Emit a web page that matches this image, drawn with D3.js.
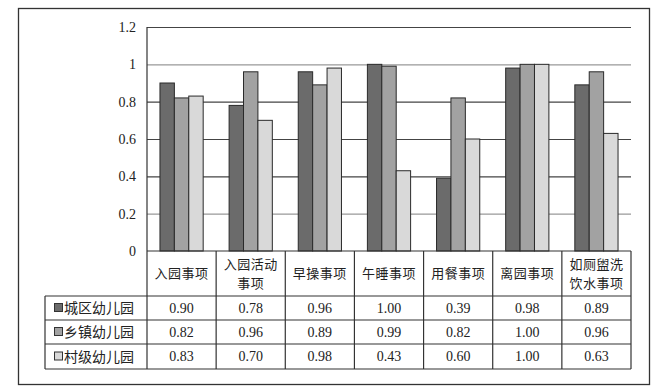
<!DOCTYPE html>
<html>
<head>
<meta charset="utf-8">
<script src="https://cdn.jsdelivr.net/npm/d3@7"></script>
<style>
  body { margin: 0; background: #fff; }
  text { fill: #222; }
</style>
</head>
<body>
<svg width="665" height="392"></svg>
<script>
// data
let categories = ['入园事项', '入园活动\n事项', '早操事项', '午睡事项', '用餐事项', '离园事项', '如厕盥洗\n饮水事项'];
let seriesNames = ['城区幼儿园', '乡镇幼儿园', '村级幼儿园'];
let cityVals = [0.90, 0.78, 0.96, 1.00, 0.39, 0.98, 0.89];
let townVals = [0.82, 0.96, 0.89, 0.99, 0.82, 1.00, 0.96];
let villageVals = [0.83, 0.70, 0.98, 0.43, 0.60, 1.00, 0.63];
let yTicks = [0, 0.2, 0.4, 0.6, 0.8, 1, 1.2];

let colors = ['#6b6b6b', '#a2a2a2', '#d9d9d9'];
let series = [cityVals, townVals, villageVals];

let serif = '"Liberation Serif", "DejaVu Serif", serif';
let cjk = '"Noto Sans CJK SC", sans-serif';

let svg = d3.select('svg');

// outer frame
svg.append('rect')
  .attr('x', 18.5).attr('y', 8.5)
  .attr('width', 631).attr('height', 376)
  .style('fill', 'none')
  .style('stroke', '#333')
  .style('stroke-width', 1.3);

let plotL = 147, plotR = 631, plotT = 27, plotB = 251;

let x = d3.scaleBand()
  .domain(d3.range(categories.length))
  .range([plotL, plotR]);

let y = d3.scaleLinear()
  .domain([0, 1.2])
  .range([plotB, plotT]);

let x1 = d3.scaleBand()
  .domain(d3.range(3))
  .range([0, x.bandwidth()])
  .paddingOuter(0.9)
  .paddingInner(0);

// gridlines
svg.append('g')
  .selectAll('line')
  .data(yTicks.filter(d => d > 0))
  .enter()
  .append('line')
  .attr('x1', plotL).attr('x2', plotR)
  .attr('y1', d => y(d) + 0.5).attr('y2', d => y(d) + 0.5)
  .style('stroke', d => (d == 1 || d == 0.2) ? '#999' : '#444')
  .style('stroke-width', 1.2);

// y labels
svg.append('g')
  .selectAll('text')
  .data(yTicks)
  .enter()
  .append('text')
  .attr('x', 136)
  .attr('y', d => y(d))
  .attr('dy', '0.35em')
  .attr('text-anchor', 'end')
  .style('font-family', serif)
  .style('font-size', '14px')
  .text(d => d);

// bars
let groups = svg.append('g')
  .selectAll('g')
  .data(categories)
  .enter()
  .append('g')
  .attr('transform', (d, i) => `translate(${x(i)},0)`);

groups.selectAll('rect')
  .data((d, i) => series.map((s, j) => ({ s: j, v: s[i] })))
  .enter()
  .append('rect')
  .attr('x', d => x1(d.s))
  .attr('y', d => y(d.v))
  .attr('width', x1.bandwidth())
  .attr('height', d => plotB - y(d.v))
  .style('fill', d => colors[d.s])
  .style('stroke', '#2a2a2a')
  .style('stroke-width', 1);

// table
let rowTops = [251, 296, 320, 344, 369];
let tableLeft = 45;
let tbl = svg.append('g')
  .style('stroke', '#333')
  .style('stroke-width', 1.2);

// left vertical line of plot + table
tbl.append('line')
  .attr('x1', plotL).attr('x2', plotL)
  .attr('y1', plotT).attr('y2', rowTops[4]);

// horizontal lines
rowTops.forEach((ry, k) => {
  tbl.append('line')
    .attr('x1', k == 0 ? plotL : tableLeft)
    .attr('x2', plotR)
    .attr('y1', ry).attr('y2', ry);
});

// vertical column lines
d3.range(1, categories.length + 1).forEach(i => {
  let cx = i == categories.length ? plotR : x(i);
  tbl.append('line')
    .attr('x1', cx).attr('x2', cx)
    .attr('y1', plotB).attr('y2', rowTops[4]);
});

tbl.append('line')
  .attr('x1', tableLeft).attr('x2', tableLeft)
  .attr('y1', rowTops[1]).attr('y2', rowTops[4]);

// header labels
categories.forEach((c, i) => {
  let lines = c.split('\n');
  let cx = x(i) + x.bandwidth() / 2;
  let cy = (rowTops[0] + rowTops[1]) / 2;
  lines.forEach((l, k) => {
    svg.append('text')
      .attr('x', cx)
      .attr('y', cy + (k - (lines.length - 1) / 2) * 19)
      .attr('dy', '0.36em')
      .attr('text-anchor', 'middle')
      .style('font-family', cjk)
      .style('font-size', '13px')
      .style('letter-spacing', '0.5px')
      .text(l);
  });
});

// value rows + legend
series.forEach((s, j) => {
  let cy = (rowTops[j + 1] + rowTops[j + 2]) / 2;
  svg.append('rect')
    .attr('x', 54.5).attr('y', cy - 4.5)
    .attr('width', 8).attr('height', 8)
    .style('fill', colors[j])
    .style('stroke', '#333')
    .style('stroke-width', 1);
  svg.append('text')
    .attr('x', 64)
    .attr('y', cy)
    .attr('dy', '0.36em')
    .style('font-family', cjk)
    .style('font-size', '14px')
    .text(seriesNames[j]);

  svg.append('g')
    .selectAll('text')
    .data(s)
    .enter()
    .append('text')
    .attr('x', (d, i) => x(i) + x.bandwidth() / 2)
    .attr('y', cy)
    .attr('dy', '0.35em')
    .attr('text-anchor', 'middle')
    .style('font-family', serif)
    .style('font-size', '14px')
    .text(d => d.toFixed(2));
});
</script>
</body>
</html>
